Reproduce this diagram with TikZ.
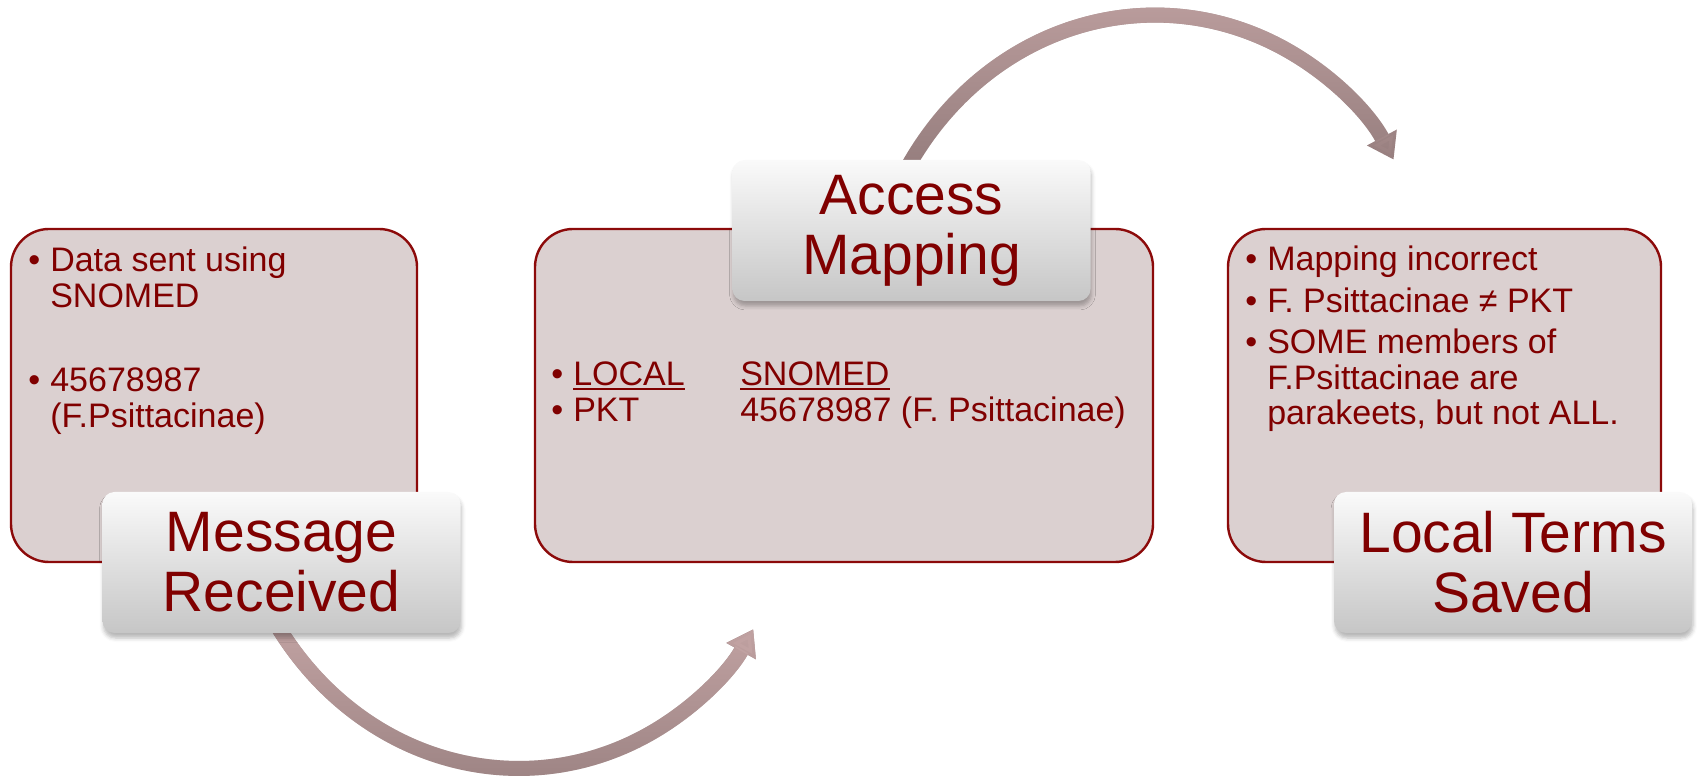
\documentclass[tikz,border=0pt]{standalone}
\usepackage{fontspec}
\setmainfont{Liberation Sans}
\usetikzlibrary{arrows.meta,shadows.blur,fadings,backgrounds}

\definecolor{textred}{RGB}{128,0,0}
\definecolor{boxline}{RGB}{140,10,10}
\definecolor{boxfill}{RGB}{219,208,208}
\definecolor{labeltop}{RGB}{250,250,250}
\definecolor{labelbot}{RGB}{198,198,198}
\definecolor{arrowlight}{RGB}{194,163,163}
\definecolor{arrowdark}{RGB}{150,126,126}

\newcommand{\ulword}[1]{\leavevmode\sbox0{#1}\rlap{\rule[-2.4pt]{\wd0}{1.3pt}}\usebox0}

\tikzfading[name=fadedown, top color=transparent!0, bottom color=transparent!100]

\begin{document}
\begin{tikzpicture}[x=0.5pt,y=-0.5pt,
    infobox/.style={draw=boxline,line width=1.2pt,fill=boxfill,rounded corners=19pt,minimum height=166.5pt},
    stagelabel/.style={rounded corners=6pt,top color=labeltop,bottom color=labelbot,
        minimum width=179pt,minimum height=70.5pt,align=center,text=textred,
        font=\fontsize{28.5}{30}\selectfont,
        blur shadow={shadow xshift=0.5pt,shadow yshift=-2.5pt,shadow blur radius=2pt,shadow opacity=28}},
    bodytext/.style={anchor=north west,inner sep=0pt,text=textred,font=\fontsize{17}{17.8}\selectfont},
    flow/.style={line width=7.5pt,arrowdark,shorten <=-8pt,-{Triangle[width=16pt,length=12.5pt]}},
    flowlight/.style={flow,arrowlight,path fading=fadedown}]
    \useasboundingbox (0,0) rectangle (1697,779);

    \node[infobox,minimum width=203pt] (sentbox) at (214,395.5) {};
    \node[infobox,minimum width=309pt] (mapbox) at (844,395.5) {};
    \node[infobox,minimum width=216.5pt] (savebox) at (1444.5,395.5) {};

    \node[bodytext] (senttext) at (28,246.1) {\begin{tabular}{@{}l@{\hspace{5pt}}l@{}}
        • & Data sent using\\
          & SNOMED\\[24.4pt]
        • & 45678987\\
          & (F.Psittacinae)
    \end{tabular}};
    \node[bodytext] (maptext) at (551,360.1) {\begin{tabular}{@{}l@{\hspace{5pt}}p{83.5pt}@{}l@{}}
        • & \ulword{LOCAL} & \ulword{SNOMED}\\
        • & PKT & 45678987 (F. Psittacinae)
    \end{tabular}};
    \node[bodytext] (savetext) at (1245,245.1) {\begin{tabular}{@{}l@{\hspace{5pt}}l@{}}
        • & Mapping incorrect\\[3pt]
        • & F. Psittacinae ≠ PKT\\[3pt]
        • & SOME members of\\
          & F.Psittacinae are\\
          & parakeets, but not ALL.
    \end{tabular}};

    \node[stagelabel] (recv) at (281.5,562.5) {Message\\Received};
    \node[stagelabel] (map) at (911.5,230.5) {Access\\Mapping};
    \node[stagelabel] (saved) at (1513,562.5) {Local Terms\\Saved};

    \begin{scope}[on background layer]
        \draw[flow] (recv.south) arc[start angle=150,end angle=29,radius=271];
        \draw[flowlight] (recv.south) arc[start angle=150,end angle=29,radius=271];
        \draw[flow] (map.north) arc[start angle=-152,end angle=-28,radius=273];
        \draw[flowlight] (map.north) arc[start angle=-152,end angle=-28,radius=273];
    \end{scope}
\end{tikzpicture}
\end{document}
